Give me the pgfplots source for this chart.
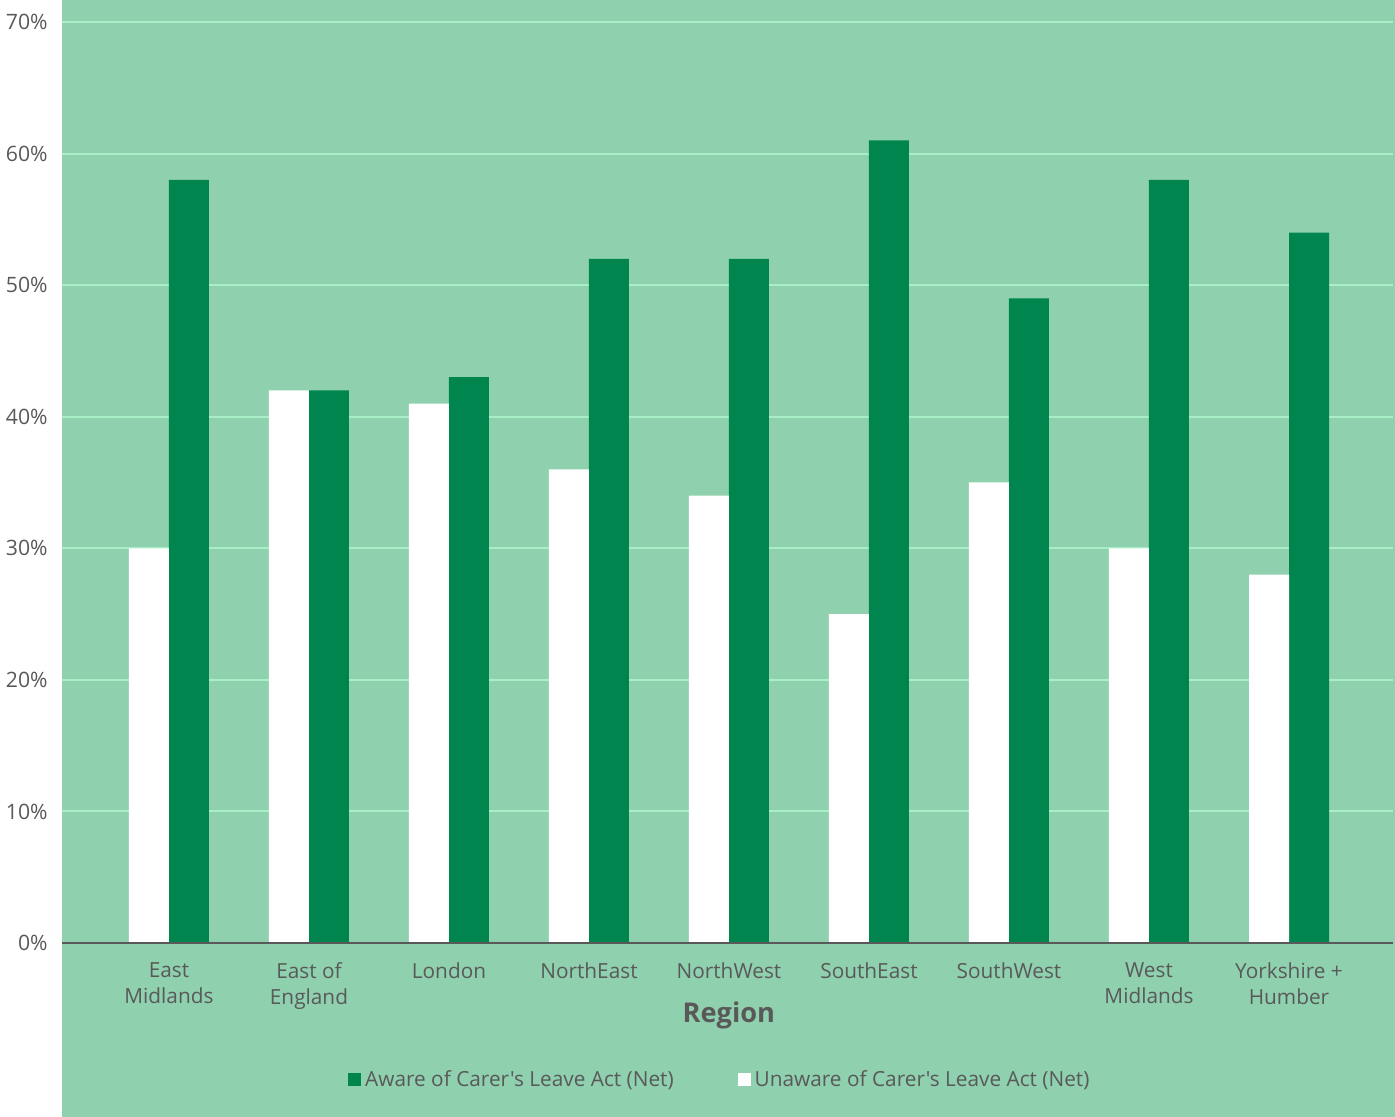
\documentclass[border=0pt]{standalone}
\usepackage{pgfplots}
\pgfplotsset{compat=1.18}
\usepackage{fontspec}
\setmainfont{Open Sans}[Ligatures=TeXOff]
\definecolor{bgc}{HTML}{8FD0AE}
\definecolor{gridc}{HTML}{A8EFC8}
\definecolor{darkg}{HTML}{00854F}
\definecolor{txt}{HTML}{595959}
\begin{document}
\begin{tikzpicture}
\fill[bgc] (0pt,-87pt) rectangle (666.5pt,471.5pt);
\begin{axis}[
  scale only axis,
  width=665.5pt, height=460.5pt,
  at={(0pt,0pt)}, anchor=south west,
  xmin=-0.764, xmax=8.743,
  ymin=0, ymax=70,
  ytick={0,10,...,70},
  yticklabel={\pgfmathprintnumber{\tick}\%},
  /pgf/number format/assume math mode=true,
  xtick={0,...,8},
  xticklabels={East\\Midlands, East of\\England, London, NorthEast, NorthWest, SouthEast, SouthWest, West\\Midlands, Yorkshire +\\Humber},
  xticklabel style={align=center, font=\fontsize{10.4}{13}\selectfont, text=txt, inner sep=0pt, yshift=-5.5pt},
  yticklabel style={anchor=east, font=\fontsize{10.6}{12}\selectfont, text=txt, inner sep=0pt, xshift=-7pt},
  axis line style={draw=none},
  tick style={draw=none},
  ymajorgrids,
  grid style={gridc, line width=1pt},
  ybar, bar width=0.2857,
  xlabel={Region},
  xlabel style={at={(axis description cs:0.501,-0.079)}, anchor=center, font=\bfseries\fontsize{13.6}{15}\selectfont, text=txt},
  legend columns=2,
  legend style={draw=none, fill=none, at={(axis description cs:0.495,-0.1487)}, anchor=center,
    font=\fontsize{10.4}{12}\selectfont, text=txt,
    /tikz/every even column/.append style={column sep=30pt}},
  legend image code/.code={\fill[#1] (0pt,-3.2pt) rectangle (6.5pt,3.3pt);},
]
\addplot[fill=darkg, draw=none, bar shift=0.142857] coordinates {(0,58) (1,42) (2,43) (3,52) (4,52) (5,61) (6,49) (7,58) (8,54)};
\addlegendentry{Aware of Carer's Leave Act (Net)}
\addplot[fill=white, draw=none, bar shift=-0.142857] coordinates {(0,30) (1,42) (2,41) (3,36) (4,34) (5,25) (6,35) (7,30) (8,28)};
\addlegendentry{Unaware of Carer's Leave Act (Net)}
\draw[txt, line width=1pt] (rel axis cs:0,0) -- (rel axis cs:1,0);
\end{axis}
\pgfresetboundingbox
\useasboundingbox (-31pt,-87pt) rectangle (666.5pt,471.5pt);
\end{tikzpicture}
\end{document}
